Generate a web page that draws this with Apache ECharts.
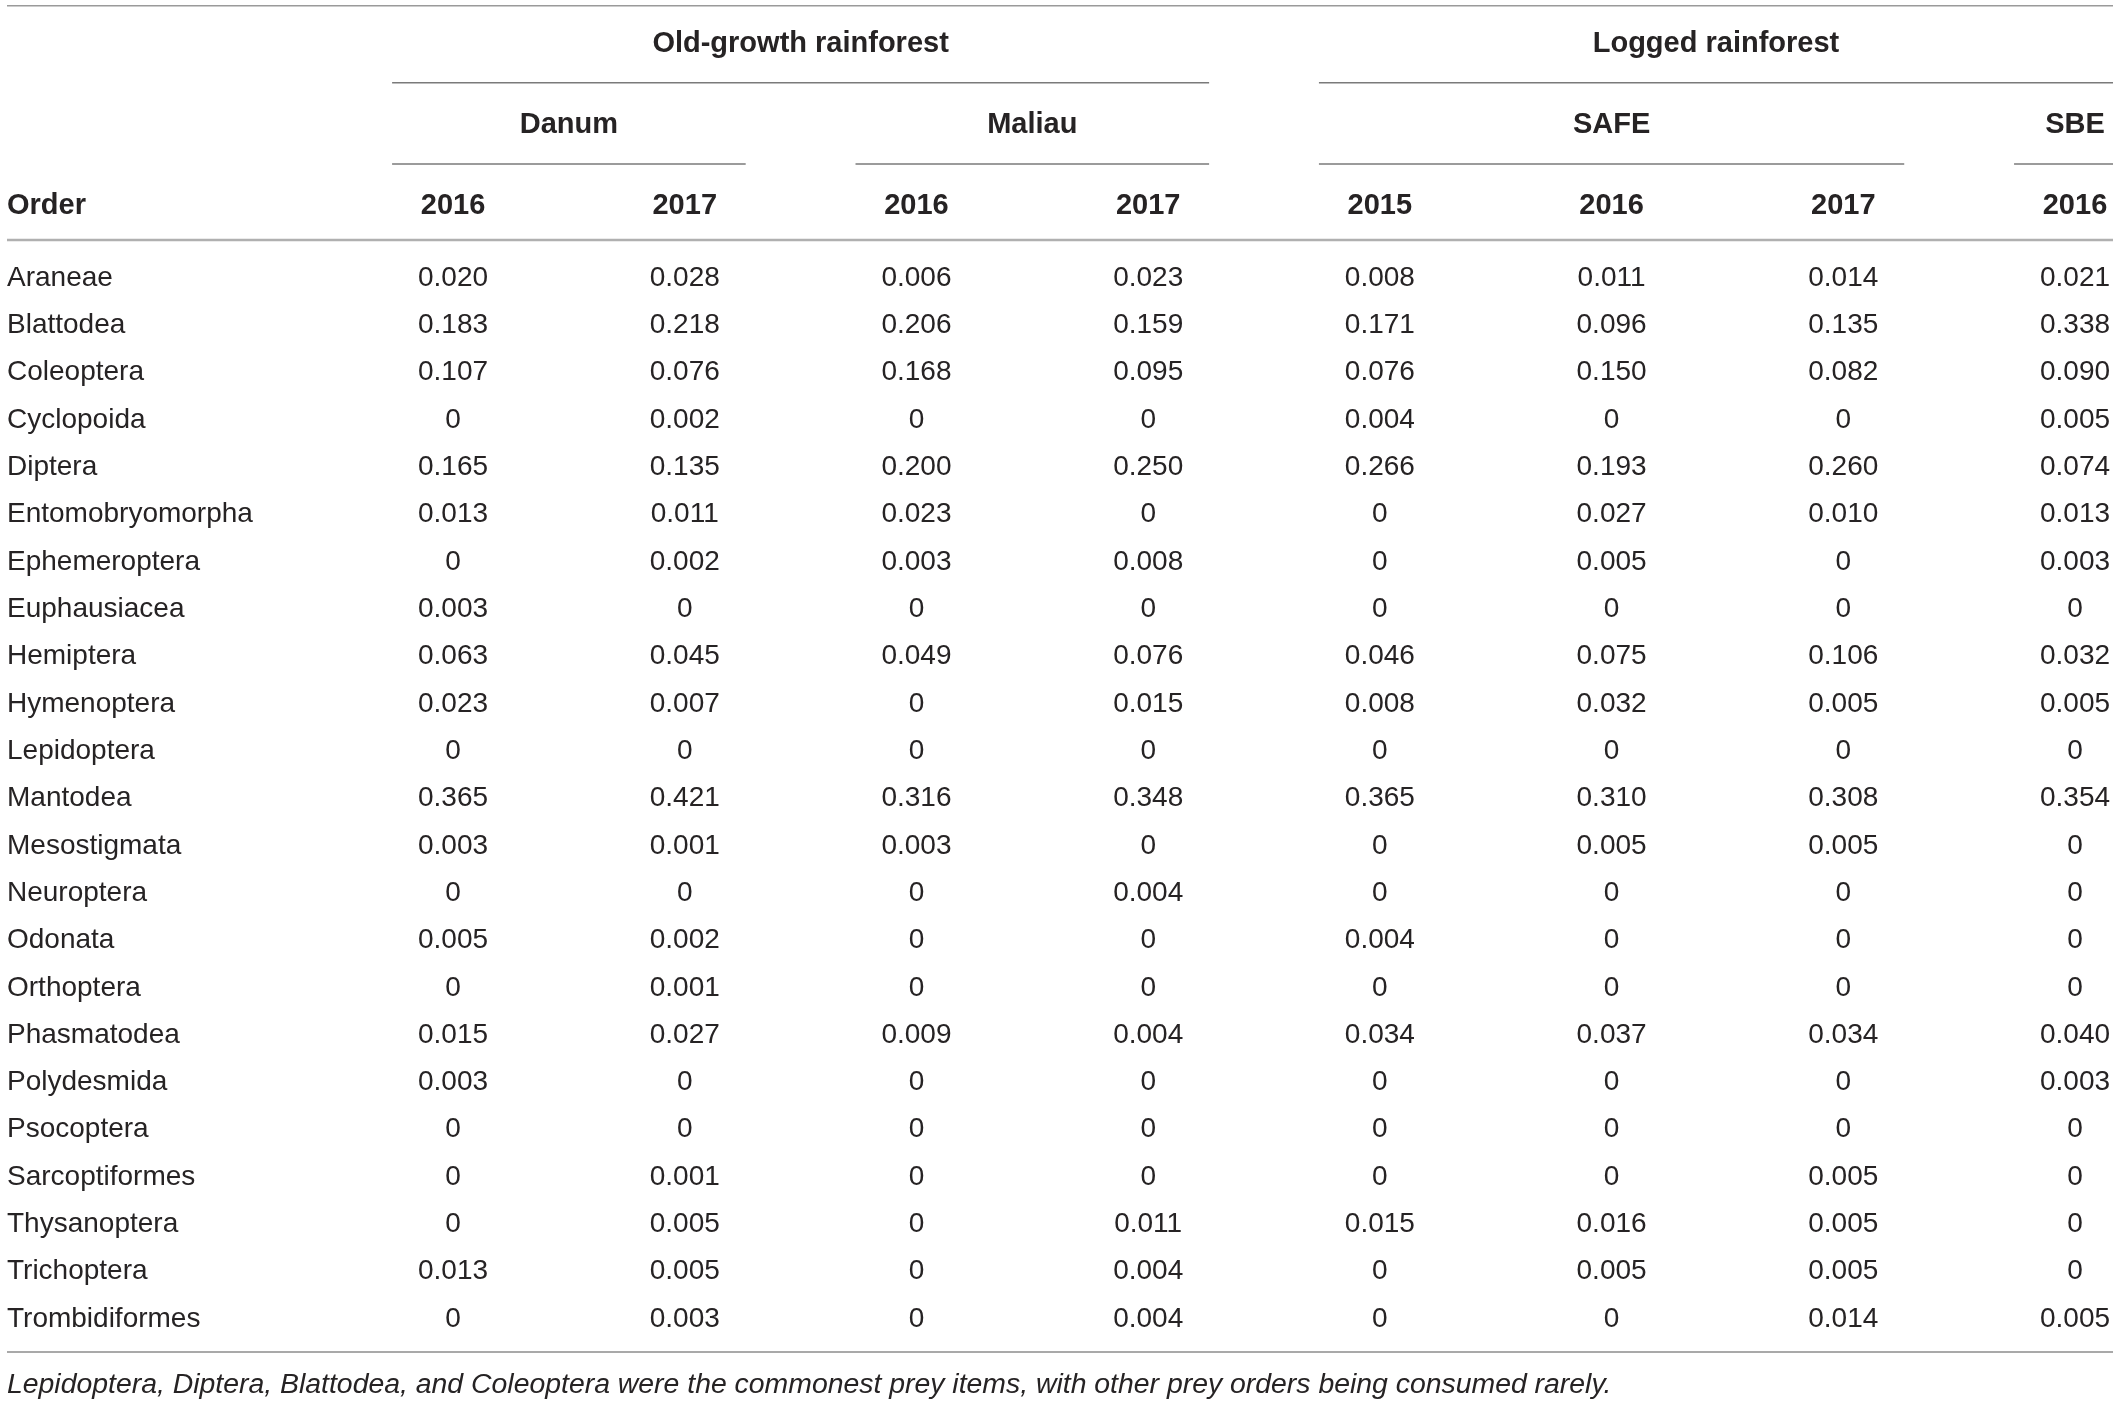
<!DOCTYPE html>
<html>
<head>
<meta charset="utf-8">
<title>Prey orders by site and year</title>
<script src="https://cdn.jsdelivr.net/npm/echarts@6/dist/echarts.min.js"></script>
<style>
html,body{margin:0;padding:0;background:#fff}
#main{width:2118px;height:1401px}
</style>
</head>
<body>
<div id="main"></div>
<script>
// table content
var orders = ['Araneae','Blattodea','Coleoptera','Cyclopoida','Diptera','Entomobryomorpha','Ephemeroptera',
    'Euphausiacea','Hemiptera','Hymenoptera','Lepidoptera','Mantodea','Mesostigmata','Neuroptera','Odonata',
    'Orthoptera','Phasmatodea','Polydesmida','Psocoptera','Sarcoptiformes','Thysanoptera','Trichoptera','Trombidiformes'];

var danum2016  = [0.020,0.183,0.107,0,0.165,0.013,0,0.003,0.063,0.023,0,0.365,0.003,0,0.005,0,0.015,0.003,0,0,0,0.013,0];
var danum2017  = [0.028,0.218,0.076,0.002,0.135,0.011,0.002,0,0.045,0.007,0,0.421,0.001,0,0.002,0.001,0.027,0,0,0.001,0.005,0.005,0.003];
var maliau2016 = [0.006,0.206,0.168,0,0.200,0.023,0.003,0,0.049,0,0,0.316,0.003,0,0,0,0.009,0,0,0,0,0,0];
var maliau2017 = [0.023,0.159,0.095,0,0.250,0,0.008,0,0.076,0.015,0,0.348,0,0.004,0,0,0.004,0,0,0,0.011,0.004,0.004];
var safe2015   = [0.008,0.171,0.076,0.004,0.266,0,0,0,0.046,0.008,0,0.365,0,0,0.004,0,0.034,0,0,0,0.015,0,0];
var safe2016   = [0.011,0.096,0.150,0,0.193,0.027,0.005,0,0.075,0.032,0,0.310,0.005,0,0,0,0.037,0,0,0,0.016,0.005,0];
var safe2017   = [0.014,0.135,0.082,0,0.260,0.010,0,0,0.106,0.005,0,0.308,0.005,0,0,0,0.034,0,0,0.005,0.005,0.005,0.014];
var sbe2016    = [0.021,0.338,0.090,0.005,0.074,0.013,0.003,0,0.032,0.005,0,0.354,0,0,0,0,0.040,0.003,0,0,0,0,0.005];

var columns = [danum2016, danum2017, maliau2016, maliau2017, safe2015, safe2016, safe2017, sbe2016];
var years = ['2016','2017','2016','2017','2015','2016','2017','2016'];
var sites = ['Danum','Maliau','SAFE','SBE'];
var siteCols = [[0,1],[2,3],[4,6],[7,7]];
var forests = ['Old-growth rainforest','Logged rainforest'];
var forestCols = [[0,3],[4,7]];
var firstHeader = 'Order';
var footnote = 'Lepidoptera, Diptera, Blattodea, and Coleoptera were the commonest prey items, with other prey orders being consumed rarely.';

// layout (axis units: x = column index, y = row index)
var X_MIN = -1.925, X_MAX = 7.164;
var Y_MIN = -5.833, Y_MAX = 23.774;
var ROW_TOP = -5.712, ROW_FOREST = -4.951, ROW_FOREST_LINE = -4.085;
var ROW_SITE = -3.227, ROW_SITE_LINE = -2.367, ROW_YEAR = -1.522, ROW_HEAD = -0.761;
var ROW_BOTTOM = 22.739, ROW_NOTE = 23.394;
var INSET = 0.237;

var FONT = '"Liberation Sans", Arial, Helvetica, sans-serif';
var TEXT = '#262324';
var SIZE = 28;
var TEXT_DY = 2;

function fmt(v){
    return v === 0 ? '0' : v.toFixed(3);
}

function txt(p, s, opts){
    opts = opts || {};
    return {
        type: 'text',
        x: p[0], y: p[1] + TEXT_DY,
        style: {
            text: s,
            fill: TEXT,
            fontFamily: FONT,
            fontSize: opts.size || SIZE,
            fontWeight: opts.weight || 'normal',
            fontStyle: opts.style || 'normal',
            align: opts.align || 'center',
            verticalAlign: 'middle'
        }
    };
}

window.onload = function(){
    var cells = [];
    for (var c = 0; c < columns.length; c++) {
        for (var r = 0; r < orders.length; r++) {
            cells.push([c, r, columns[c][r]]);
        }
    }
    var groups = [];
    forestCols.forEach(function(s, i){ groups.push([s[0], s[1], ROW_FOREST, ROW_FOREST_LINE, 0, i]); });
    siteCols.forEach(function(s, i){ groups.push([s[0], s[1], ROW_SITE, ROW_SITE_LINE, 1, i]); });

    var rules = [
        [ROW_TOP, 1.5, '#9a9a9a'],
        [ROW_HEAD, 2.5, '#b0b0b0'],
        [ROW_BOTTOM, 1.5, '#8c8c8c']
    ];

    var myChart = echarts.init(document.getElementById('main'), null, {renderer: 'canvas'});
    var option = {
        backgroundColor: '#ffffff',
        animation: false,
        grid: {left: 7, right: 5, top: 0, bottom: 0},
        xAxis: {type: 'value', min: X_MIN, max: X_MAX, show: false},
        yAxis: {type: 'value', min: Y_MIN, max: Y_MAX, inverse: true, show: false},
        series: [
            {   // values
                type: 'custom',
                clip: false,
                data: cells,
                renderItem: function(params, api){
                    var p = api.coord([api.value(0), api.value(1)]);
                    return txt(p, fmt(api.value(2)));
                }
            },
            {   // order names
                type: 'custom',
                clip: false,
                data: orders.map(function(n, r){ return [X_MIN, r]; }),
                renderItem: function(params, api){
                    var p = api.coord([api.value(0), api.value(1)]);
                    return txt(p, orders[params.dataIndex], {align: 'left'});
                }
            },
            {   // year header row
                type: 'custom',
                clip: false,
                data: years.map(function(y, c){ return [c, ROW_YEAR]; }).concat([[X_MIN, ROW_YEAR]]),
                renderItem: function(params, api){
                    var p = api.coord([api.value(0), api.value(1)]);
                    var i = params.dataIndex;
                    if (i >= years.length) return txt(p, firstHeader, {weight: 'bold', align: 'left', size: 29});
                    return txt(p, years[i], {weight: 'bold', size: 29});
                }
            },
            {   // spanning headers with underline
                type: 'custom',
                clip: false,
                data: groups,
                renderItem: function(params, api){
                    var s = api.value(0), e = api.value(1);
                    var kind = api.value(4), idx = api.value(5);
                    var x1 = s - 0.5 + INSET, x2 = Math.min(e + 0.5 - INSET, X_MAX);
                    var a = api.coord([x1, api.value(3)]);
                    var b = api.coord([x2, api.value(3)]);
                    var mid = kind === 0 ? (x1 + x2) / 2 : (s + e) / 2;
                    var label = kind === 0 ? forests[idx] : sites[idx];
                    var p = api.coord([mid, api.value(2)]);
                    return {
                        type: 'group',
                        children: [
                            txt(p, label, {weight: 'bold', size: 29}),
                            {type: 'line', shape: {x1: a[0], y1: a[1], x2: b[0], y2: b[1]},
                             style: {stroke: '#7a7a7a', lineWidth: 1.5}}
                        ]
                    };
                }
            },
            {   // horizontal rules
                type: 'custom',
                clip: false,
                data: rules.map(function(r){ return [X_MIN, r[0]]; }),
                renderItem: function(params, api){
                    var rr = rules[params.dataIndex];
                    var a = api.coord([X_MIN, api.value(1)]);
                    var b = api.coord([X_MAX, api.value(1)]);
                    return {type: 'line', shape: {x1: a[0], y1: a[1], x2: b[0], y2: b[1]},
                            style: {stroke: rr[2], lineWidth: rr[1]}};
                }
            },
            {   // footnote
                type: 'custom',
                clip: false,
                data: [[X_MIN, ROW_NOTE]],
                renderItem: function(params, api){
                    var p = api.coord([api.value(0), api.value(1)]);
                    return txt(p, footnote, {align: 'left', style: 'italic', size: 28.4});
                }
            }
        ]
    };
    myChart.setOption(option);
    window.addEventListener("resize", function(){
        myChart.resize();
    });
};
</script>
</body>
</html>
